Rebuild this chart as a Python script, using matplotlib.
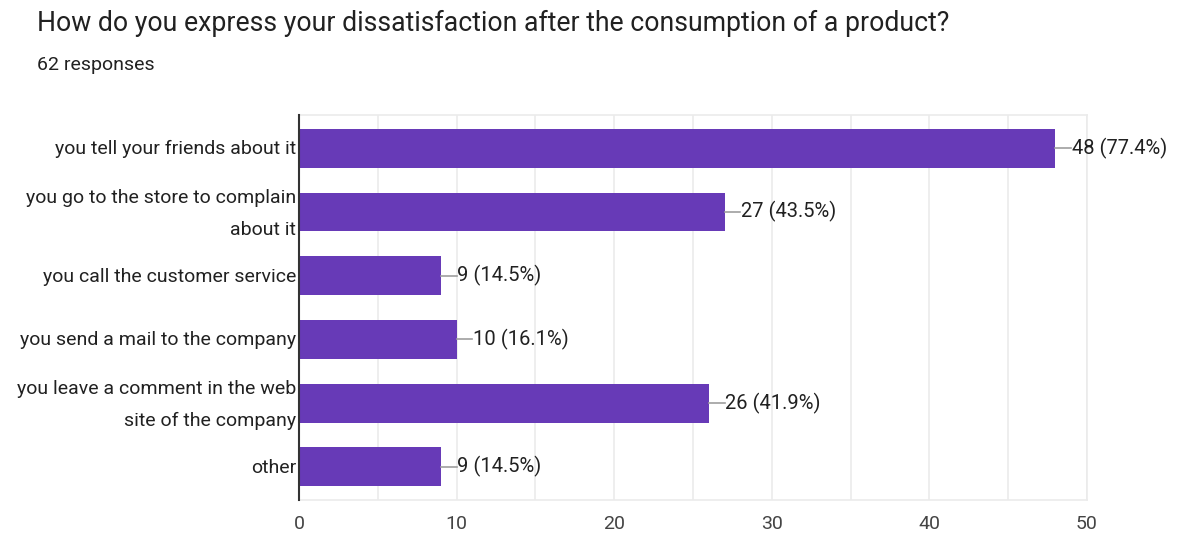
import matplotlib.pyplot as plt
from matplotlib.ticker import MultipleLocator
from matplotlib.transforms import offset_copy

plt.rcParams['font.family'] = ['Roboto', 'DejaVu Sans']

categories = [
    'you tell your friends about it',
    'you go to the store to complain\nabout it',
    'you call the customer service',
    'you send a mail to the company',
    'you leave a comment in the web\nsite of the company',
    'other',
]
counts = [48, 27, 9, 10, 26, 9]
total = 62
xticks = [0, 10, 20, 30, 40, 50]

fig = plt.figure(figsize=(11.81, 5.38), dpi=100)
ax = fig.add_axes([0.2532, 0.0706, 0.6672, 0.7155])

ypos = list(range(len(categories)))
ax.barh(ypos, counts, height=0.61, color='#673ab7', zorder=3)

for y, c in zip(ypos, counts):
    ax.plot([c, c + 1.0], [y, y], color='#9e9e9e', lw=1.2, zorder=3)
    ax.text(c + 1.05, y, f'{c} ({c / total * 100:.1f}%)', va='center', ha='left',
            fontsize=14.5, color='#212121')

ax.set_xlim(0, 50)
ax.set_ylim(len(categories) - 0.48, -0.52)
ax.set_xticks(xticks)
ax.xaxis.set_minor_locator(MultipleLocator(5))
ax.grid(axis='x', which='both', color='#ebebeb', lw=1.2, zorder=0)
ax.set_yticks(ypos)
ax.set_yticklabels([])
ax.tick_params(axis='y', length=0)
ax.tick_params(axis='x', which='both', length=0, pad=11, labelsize=14, labelcolor='#444444')

# category labels drawn by hand so two-line ones sit centred on the bar
for y, lab in zip(ypos, categories):
    dy = -2 if '\n' in lab else -1
    tr = offset_copy(ax.get_yaxis_transform(), fig=fig, x=-3, y=dy, units='dots')
    ax.text(0, y, lab, transform=tr, ha='right', va='center', fontsize=14,
            color='#212121', linespacing=2.0, multialignment='right')

for side in ['top', 'right', 'bottom']:
    ax.spines[side].set_color('#ebebeb')
    ax.spines[side].set_linewidth(1.2)
ax.spines['left'].set_color('#333333')
ax.spines['left'].set_linewidth(1.5)
ax.spines['left'].set_zorder(4)

fig.text(0.0313, 0.942, 'How do you express your dissatisfaction after the consumption of a product?',
         fontsize=19.2, color='#212121', va='baseline')
fig.text(0.0313, 0.87, '62 responses', fontsize=14, color='#212121', va='baseline')

fig.savefig('out.png', dpi=100)
